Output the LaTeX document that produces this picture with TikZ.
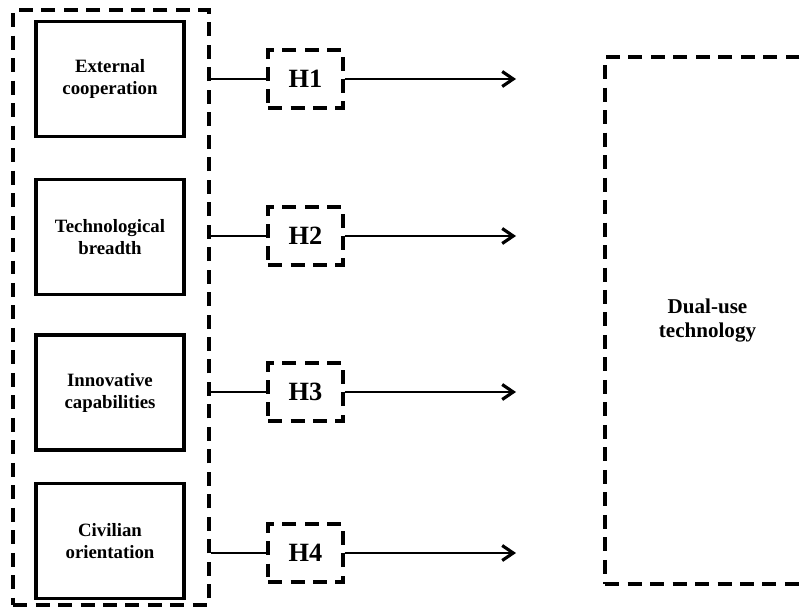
\documentclass[tikz,border=0pt]{standalone}
\usepackage{fontspec}
\setmainfont{Liberation Serif}
\usetikzlibrary{arrows.meta}
\tikzset{
  factor/.style = {draw, line width=1.8pt, minimum width=2.96cm, minimum height=2.3cm,
    align=center, font=\fontsize{10.7}{12.5}\selectfont\bfseries},
  dashbox/.style = {draw, line width=1.9pt, dash pattern=on 0.28cm off 0.17cm},
  hyp/.style = {dashbox, minimum width=1.5cm, minimum height=1.16cm,
    font=\fontsize{15}{18}\selectfont\bfseries},
  link/.style = {line width=1.6pt},
  effect/.style = {link, -{Straight Barb[length=2.2mm,width=3mm,line width=1.8pt]}}
}
\newcommand{\hx}{305.5}
\newcommand{\tipx}{516}

\begin{document}
\begin{tikzpicture}[x=0.02cm, y=-0.02cm]
  \useasboundingbox (0,0) rectangle (801,615);
  % left group
  \node[dashbox, minimum width=3.92cm, minimum height=11.9cm] (group) at (111,307.5) {};
  \node[factor] (coop)    at (110,79)    {External\\ cooperation};
  \node[factor] (breadth) at (110,237)   {Technological\\ breadth};
  \node[factor] (innov)   at (110,392.5) {Innovative\\ capabilities};
  \node[factor] (civil)   at (110,541)   {Civilian\\ orientation};
  % hypotheses
  \node[hyp] (h1) at (\hx,79)  {H1};
  \node[hyp] (h2) at (\hx,236) {H2};
  \node[hyp] (h3) at (\hx,392) {H3};
  \node[hyp] (h4) at (\hx,553) {H4};
  % outcome
  \node[dashbox, minimum width=4.1cm, minimum height=10.54cm, align=center,
        font=\fontsize{12}{14}\selectfont\bfseries] (dual) at (707.5,320.5) {Dual-use\\ technology};
  \coordinate (t1) at (\tipx,79);
  \coordinate (t2) at (\tipx,236);
  \coordinate (t3) at (\tipx,392);
  \coordinate (t4) at (\tipx,553);
  \draw[link] (group.east |- h1.west) -- (h1.west);
  \draw[link] (group.east |- h2.west) -- (h2.west);
  \draw[link] (group.east |- h3.west) -- (h3.west);
  \draw[link] (group.east |- h4.west) -- (h4.west);
  \draw[effect] (h1.east) -- (t1);
  \draw[effect] (h2.east) -- (t2);
  \draw[effect] (h3.east) -- (t3);
  \draw[effect] (h4.east) -- (t4);
\end{tikzpicture}
\end{document}
